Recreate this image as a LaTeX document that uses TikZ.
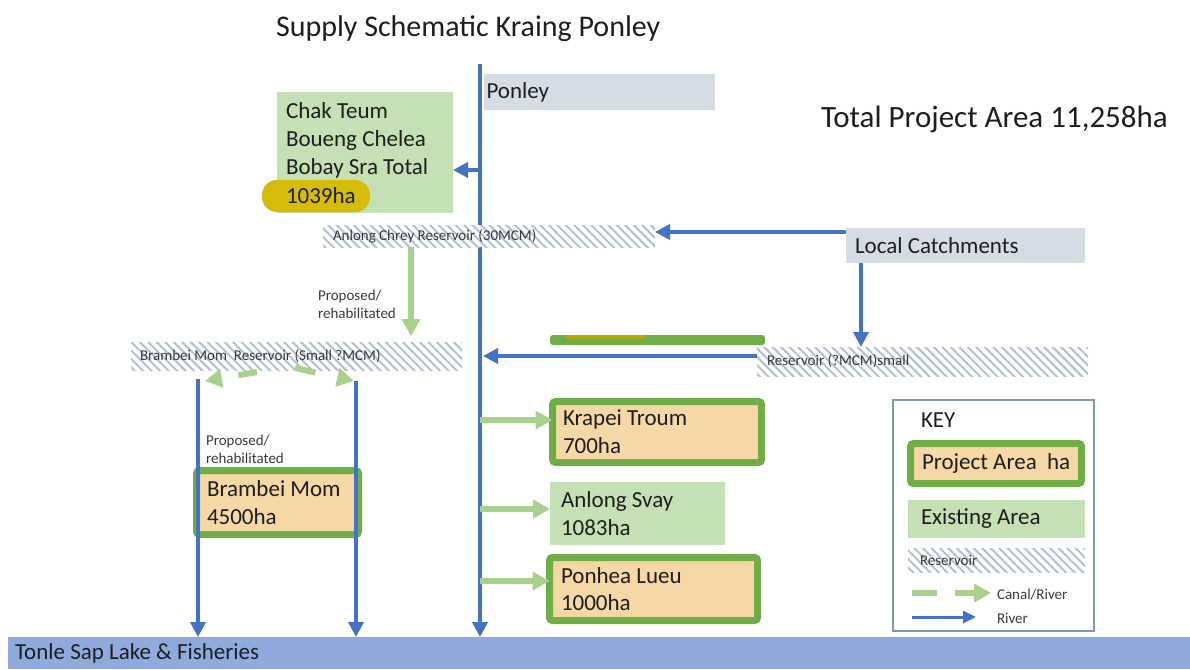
\documentclass[tikz,border=0pt]{standalone}
\usepackage{fontspec}
\setmainfont{Carlito}
\usetikzlibrary{arrows.meta,patterns.meta}
\definecolor{riverblue}{HTML}{4472C4}
\definecolor{canalgreen}{HTML}{A9D18E}
\definecolor{projgreen}{HTML}{70AD47}
\definecolor{tanfill}{HTML}{F5D8A6}
\definecolor{existfill}{HTML}{C5E0B4}
\definecolor{greybox}{HTML}{D6DCE5}
\definecolor{lakeblue}{HTML}{8FAADC}
\definecolor{hilite}{RGB}{212,188,8}
\definecolor{hilitedark}{RGB}{190,168,0}
\definecolor{hatchcol}{HTML}{B3BFD3}
\definecolor{keyframe}{HTML}{8497B0}
\definecolor{smalltext}{HTML}{3A3A3A}
\definecolor{maintext}{HTML}{1E1E1E}
\newcommand{\natsp}{\spaceskip=0pt\xspaceskip=0pt\relax}
\tikzset{
  every node/.style={execute at begin node=\natsp},
  big/.style={font=\fontsize{23}{27.7}\selectfont\natsp, text=maintext},
  small/.style={font=\fontsize{15}{18}\selectfont\natsp, text=smalltext},
  area/.style={anchor=north west, inner ysep=0pt, outer sep=0pt, align=left, big},
  existbox/.style={area, fill=existfill},
  greyboxst/.style={area, fill=greybox},
  projbox/.style={area, fill=tanfill, draw=projgreen, line width=7pt, rounded corners=3pt},
  resbox/.style={anchor=north west, inner ysep=0pt, outer sep=0pt, align=left, small,
    preaction={fill=white}, pattern={Lines[angle=-45,distance=6pt,line width=2pt]}, pattern color=hatchcol},
  river/.style={draw=riverblue, line width=4.5pt, -{Triangle[length=15pt,width=15pt]}},
  canal/.style={draw=canalgreen, line width=6pt, -{Triangle[length=17pt,width=18pt]}},
  plaintext/.style={inner sep=0pt, outer sep=0pt},
}
\begin{document}
\begin{tikzpicture}[x=1pt,y=-1pt]
\useasboundingbox (0,0) rectangle (1190,669);

% titles
\node[plaintext, anchor=base west, font=\fontsize{30}{36}\selectfont, text=maintext] (title) at (276,37) {Supply Schematic Kraing Ponley};
\node[plaintext, anchor=base west, font=\fontsize{31}{37}\selectfont, text=maintext] (total) at (821,127) {Total Project Area 11,258ha};

% lake
\node[area, fill=lakeblue, minimum width=1182pt, minimum height=32pt, inner xsep=7pt, text width=1168pt, font=\fontsize{23}{26}\selectfont\natsp] (lake) at (8,637) {\natsp Tonle Sap Lake \& Fisheries};

% main river
\coordinate (ponleyriver) at (480,64);
\draw[river] (ponleyriver) -- (ponleyriver |- lake.north);

% Ponley and catchments
\node[greyboxst, minimum width=231pt, minimum height=36pt, inner xsep=2.5pt, text width=226pt] (ponley) at (484,74) {Ponley};
\node[greyboxst, minimum width=239pt, minimum height=35pt, inner xsep=9pt, text width=221pt] (lc) at (846,228) {\natsp Local Catchments};

% existing area upstream
\node[existbox, minimum width=176pt, minimum height=121pt, inner xsep=9pt, text width=158pt, font=\fontsize{23}{28}\selectfont\natsp] (chak) at (277,92) {\natsp Chak Teum\\Boueng Chelea\\Bobay Sra Total\\\phantom{1039ha}};
\node[anchor=north west, outer sep=0pt, inner xsep=0pt, inner ysep=0pt, fill=hilite, rounded corners=15pt, minimum height=32pt, text width=108pt, align=left, big] (hl) at (262,180) {\hspace*{24pt}1039ha};

% reservoirs
\node[resbox, minimum width=332pt, minimum height=22pt, inner xsep=10pt, text width=312pt] (res1) at (323,225) {\natsp Anlong Chrey Reservoir (30MCM)};
\node[resbox, minimum width=331pt, minimum height=28pt, inner xsep=9pt, text width=313pt] (res2) at (131,342) {\natsp Brambei Mom\ \ Reservoir (Small ?MCM)};
\node[resbox, minimum width=331pt, minimum height=29pt, inner xsep=10pt, text width=311pt] (res3) at (757,347) {\natsp Reservoir (?MCM)small};

% partially hidden project box
\fill[projgreen, rounded corners=3pt] (550,335) rectangle (765,345);
\fill[hilitedark, rounded corners=2pt] (565,335) rectangle (645,338.5);

% project and existing areas
\node[projbox, minimum width=209pt, minimum height=61pt, inner xsep=10.5pt, text width=188pt] (krapei) at (552.5,401.5) {\natsp Krapei Troum\\700ha};
\node[existbox, minimum width=175pt, minimum height=63pt, inner xsep=11pt, text width=153pt] (svay) at (550,482) {\natsp Anlong Svay\\1083ha};
\node[projbox, minimum width=208pt, minimum height=63pt, inner xsep=11.5pt, text width=185pt] (ponhea) at (549.5,557.5) {\natsp Ponhea Lueu\\1000ha};
\node[projbox, minimum width=162pt, minimum height=64pt, inner xsep=10.5pt, text width=141pt] (brambei) at (196.5,470.5) {\natsp Brambei Mom\\4500ha};

% labels
\node[plaintext, anchor=west, align=left, small] (prop1) at (318,304) {Proposed/\\rehabilitated};
\node[plaintext, anchor=west, align=left, small] (prop2) at (206,449) {Proposed/\\rehabilitated};

% river connectors
\draw[river] (ponleyriver |- 0,170) -- (chak.east |- 0,170);
\draw[river] (lc.north west |- 0,232) -- (res1.east |- 0,232);
\draw[river] (lc.south -| 861,0) -- (861,347);
\draw[river] (res3.west |- 0,356) -- (483,356);
\draw[river] (198,379) -- (198,0 |- lake.north);
\draw[river] (356,381) -- (356,0 |- lake.north);

% canal connectors
\draw[canal] (res1.south -| 411,0) -- (411,336);
\draw[canal, dash pattern=on 19pt off 17pt] (257,372) -- (205,381);
\draw[canal, dash pattern=on 21pt off 23pt] (295,368) -- (354,381);
\draw[canal] (ponleyriver |- 0,420) -- (krapei.west |- 0,420);
\draw[canal] (ponleyriver |- 0,509) -- (svay.west |- 0,509);
\draw[canal] (ponleyriver |- 0,581) -- (ponhea.west |- 0,581);

% key
\node[anchor=north west, draw=keyframe, line width=1.3pt, minimum width=201pt, minimum height=231pt, outer sep=0pt] (keybox) at (893,400) {};
\node[plaintext, anchor=west, big] (keytitle) at (921,420) {KEY};
\node[projbox, minimum width=171pt, minimum height=40pt, inner xsep=11.5pt, text width=148pt] (keyproj) at (910.5,443.5) {\natsp\mbox{Project Area\ \ ha}};
\node[existbox, minimum width=177pt, minimum height=38pt, inner xsep=13pt, text width=151pt] (keyexist) at (908,500) {\natsp Existing Area};
\node[resbox, minimum width=177pt, minimum height=24pt, inner xsep=12pt, text width=153pt] (keyres) at (908,548) {Reservoir};
\coordinate (canalA) at (912,593);
\coordinate (canalB) at (991,593);
\draw[canal, dash pattern=on 25pt off 18pt] (canalA) -- (canalB);
\node[plaintext, anchor=west, small] (canaltext) at (997,595) {Canal/River};
\coordinate (riverA) at (912,617);
\coordinate (riverB) at (976,617);
\draw[draw=riverblue, line width=3pt, -{Triangle[length=13pt,width=12pt]}] (riverA) -- (riverB);
\node[plaintext, anchor=west, small] (rivertext) at (997,618) {River};
\end{tikzpicture}
\end{document}
